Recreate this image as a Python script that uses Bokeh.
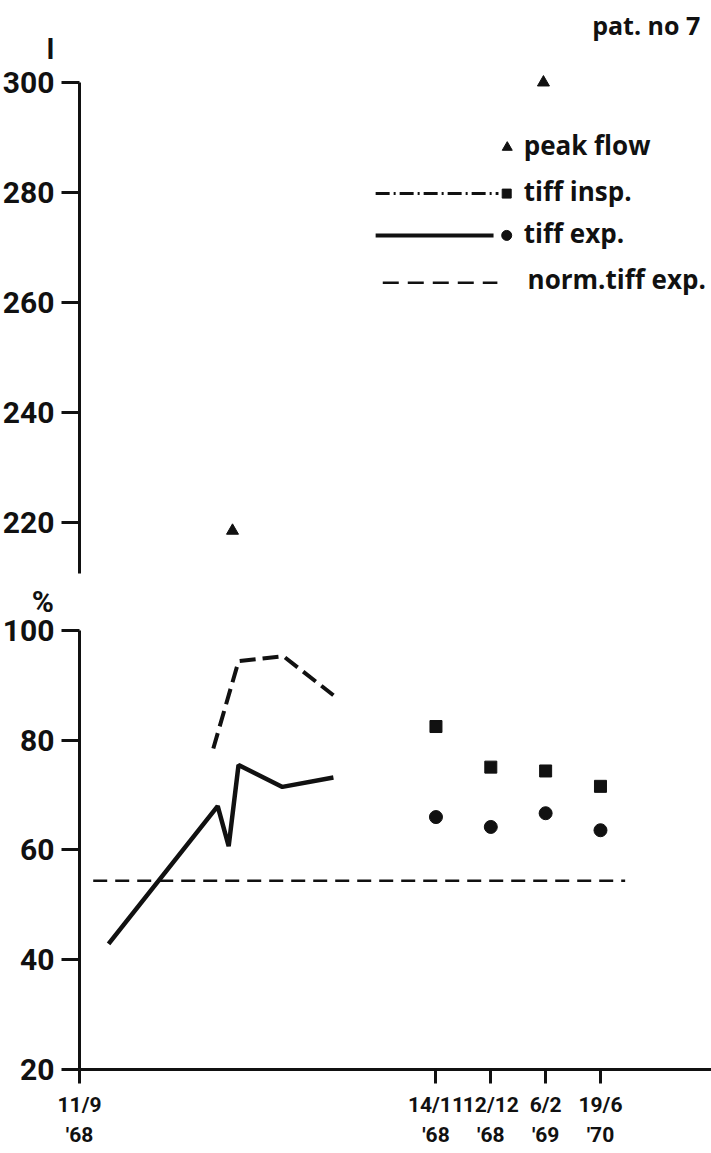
from bokeh.plotting import figure
from bokeh.layouts import column
from bokeh.models import Range1d, FixedTicker, Label
from bokeh.embed import file_html
from bokeh.resources import INLINE

# ---------------- data ----------------
# x: days after 11/9 '68 for the early course; later visits at fixed positions
exp_days = [5.3, 25.2, 27.2, 29.0, 37.0, 46.3]
exp_pct = [42.9, 68.0, 60.7, 75.5, 71.5, 73.2]          # tiff exp. (%)
insp_days = [24.4, 29.0, 37.2, 46.3]
insp_pct = [78.5, 94.4, 95.3, 88.2]                     # tiff insp. (%)
norm_days = [2.5, 99.5]
norm_pct = [54.4, 54.4]                                 # norm. tiff exp. (%)
peak_days = [27.9, 84.6]
peak_l = [218.5, 300.0]                                 # peak flow (l)

visit_pos = [65, 75, 85, 95]
visit_labels = ["14/11\n'68", "12/12\n'68", "6/2\n'69", "19/6\n'70"]
visit_insp = [82.5, 75.1, 74.4, 71.6]                   # tiff insp. (%)
visit_exp = [66.0, 64.2, 66.7, 63.6]                    # tiff exp. (%)

start_label = "11/9\n'68"
upper_ticks = [220, 240, 260, 280, 300]
lower_ticks = [20, 40, 60, 80, 100]

# ---------------- style ----------------
INK = "#111111"
TICK_FONT = "Roboto"
XTICK_FONT = "Roboto"
TEXT_FONT = "Open Sans"
W = 711
TOP_H = 578
BOT_H = 575

x_range = Range1d(-14.406, 115.245)


def style_y(ax, bounds, ticks):
    ax.fixed_location = 0
    ax.bounds = bounds
    ax.ticker = FixedTicker(ticks=ticks)
    ax.minor_tick_line_color = None
    ax.axis_line_width = 3
    ax.axis_line_color = INK
    ax.major_tick_line_width = 3
    ax.major_tick_line_color = INK
    ax.major_tick_in = 0
    ax.major_tick_out = 18
    ax.major_label_standoff = 7
    ax.major_label_text_font = TICK_FONT
    ax.major_label_text_font_size = "30px"
    ax.major_label_text_font_style = "bold"
    ax.major_label_text_color = INK


def base(height, y_range):
    p = figure(width=W, height=height, x_range=x_range, y_range=y_range,
               toolbar_location=None, output_backend="svg",
               min_border=0, min_border_left=0, min_border_right=0,
               min_border_top=0, min_border_bottom=0,
               outline_line_color=None, background_fill_color="white",
               border_fill_color="white")
    p.xgrid.visible = False
    p.ygrid.visible = False
    return p


def text(p, x, y, s, size="26px", align="left", baseline="middle", font=TEXT_FONT):
    p.add_layout(Label(x=x, y=y, text=s, text_font=font, text_font_size=size,
                       text_font_style="bold", text_color=INK,
                       text_align=align, text_baseline=baseline))


# ---------------- upper panel: peak flow (l) ----------------
top = base(TOP_H, Range1d(209.82, 314.91))
top.xaxis.visible = False
style_y(top.yaxis[0], (210.7, 300), upper_ticks)
top.scatter(peak_days, peak_l, marker="triangle", size=12, color=INK)

text(top, -5.3, 306.0, "l", size="28px", align="center", font="Roboto")
text(top, 113.2, 310.4, "pat. no 7", size="25px", align="right")

# legend (layout positions in the upper panel)
top.scatter([78.0], [288.2], marker="triangle", size=10, color=INK)
text(top, 81.0, 288.6, "peak flow")
top.line([54.0, 76.4], [279.8, 279.8], line_width=3, line_dash="14 4 2 4", color=INK)
top.scatter([77.9], [279.8], marker="square", size=9, color=INK)
text(top, 81.0, 280.2, "tiff insp.")
top.line([54.0, 75.5], [272.2, 272.2], line_width=4, color=INK)
top.scatter([77.9], [272.2], marker="circle", size=10, color=INK)
text(top, 81.0, 272.6, "tiff exp.")
top.line([55.3, 76.2], [263.6, 263.6], line_width=2.5, line_dash="16 9", color=INK)
text(top, 81.7, 264.2, "norm.tiff exp.")

# ---------------- lower panel: tiffeneau (%) ----------------
bot = base(BOT_H, Range1d(4.69, 109.476))
style_y(bot.yaxis[0], (20, 100), lower_ticks)

xa = bot.xaxis[0]
xa.fixed_location = 20
xa.bounds = (0, 115.2)
xa.ticker = FixedTicker(ticks=[0] + visit_pos)
overrides = {0: start_label}
for pos, lab in zip(visit_pos, visit_labels):
    overrides[pos] = lab
xa.major_label_overrides = overrides
xa.minor_tick_line_color = None
xa.axis_line_width = 3
xa.axis_line_color = INK
xa.major_tick_line_width = 3
xa.major_tick_line_color = INK
xa.major_tick_in = 0
xa.major_tick_out = 14
xa.major_label_standoff = 10
xa.major_label_text_font = XTICK_FONT
xa.major_label_text_font_size = "21px"
xa.major_label_text_font_style = "bold"
xa.major_label_text_color = INK
xa.major_label_text_line_height = 1.25

text(bot, -6.7, 105.2, "%", size="30px", align="center", font="Roboto")

bot.line(norm_days, norm_pct, line_width=2.5, line_dash="14 8", color=INK)
bot.line(insp_days, insp_pct, line_width=4, line_dash="16 7", color=INK)
bot.line(exp_days, exp_pct, line_width=4.5, color=INK)
bot.scatter(visit_pos, visit_insp, marker="square", size=12, color=INK)
bot.scatter(visit_pos, visit_exp, marker="circle", size=13, color=INK)

layout = column(top, bot, spacing=0)
open("out.html", "w").write(file_html(layout, INLINE))
